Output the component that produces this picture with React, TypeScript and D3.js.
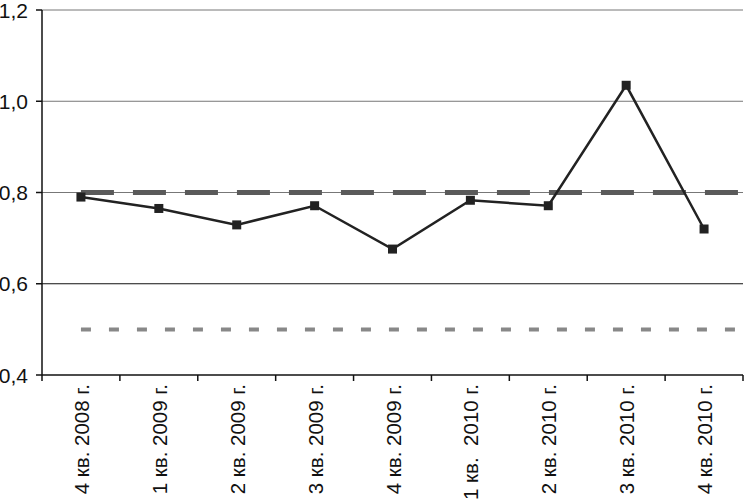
import React from "react";
import * as d3 from "d3";

const categories = [
  "4 кв. 2008 г.",
  "1 кв. 2009 г.",
  "2 кв. 2009 г.",
  "3 кв. 2009 г.",
  "4 кв. 2009 г.",
  "1 кв.  2010 г.",
  "2 кв. 2010 г.",
  "3 кв. 2010 г.",
  "4 кв. 2010 г.",
];
const values = [0.79, 0.765, 0.729, 0.771, 0.676, 0.783, 0.771, 1.035, 0.72];
const upperLevel = 0.8;
const lowerLevel = 0.5;
const yTicks = [0.4, 0.6, 0.8, 1.0, 1.2];

const W = 744;
const H = 503;
const left = 42;
const right = 743;
const top = 10;
const bottom = 375;
const FONT = "Arial, 'Liberation Sans', sans-serif";

export default function App() {
  const x = d3.scaleBand<string>().domain(categories).range([left, right]).padding(0);
  const y = d3.scaleLinear().domain([0.4, 1.2]).range([bottom, top]);
  const cx = (c: string) => (x(c) as number) + x.bandwidth() / 2;
  const line = d3
    .line<number>()
    .x((_, i) => cx(categories[i]))
    .y((d) => y(d));
  const fmt = (v: number) => v.toFixed(1).replace(".", ",");
  const refStart = cx(categories[0]);
  const refEnd = right - 3;

  return (
    <svg width={W} height={H} style={{ position: "absolute", left: 0, top: 0 }}>
      <rect width={W} height={H} fill="#fff" />
      {yTicks.map((t) =>
        t > 0.4 ? (
          <line
            key={"g" + t}
            x1={left}
            x2={right}
            y1={y(t)}
            y2={y(t)}
            stroke={t === 0.6 ? "#111" : "#777"}
            strokeWidth={1}
          />
        ) : null
      )}
      <line
        x1={refStart}
        x2={refEnd}
        y1={y(upperLevel)}
        y2={y(upperLevel)}
        stroke="#5a5a5a"
        strokeWidth={5}
        strokeDasharray="33 19"
      />
      <line
        x1={refStart}
        x2={refEnd}
        y1={y(lowerLevel)}
        y2={y(lowerLevel)}
        stroke="#888"
        strokeWidth={4}
        strokeDasharray="10 18"
      />
      <line x1={left} x2={left} y1={top} y2={bottom} stroke="#111" strokeWidth={1.5} />
      <line x1={left} x2={right} y1={bottom} y2={bottom} stroke="#111" strokeWidth={1.5} />
      {yTicks.map((t) => (
        <g key={"t" + t}>
          <line x1={left - 6} x2={left} y1={y(t)} y2={y(t)} stroke="#111" strokeWidth={1.5} />
          <text
            x={28}
            y={y(t)}
            dy="0.36em"
            textAnchor="end"
            fontSize={21}
            fontFamily={FONT}
            fill="#111"
          >
            {fmt(t)}
          </text>
        </g>
      ))}
      {categories.map((c, i) => (
        <line
          key={"xt" + i}
          x1={x(c) as number}
          x2={x(c) as number}
          y1={bottom}
          y2={bottom + 6}
          stroke="#111"
          strokeWidth={1.5}
        />
      ))}
      <line x1={right} x2={right} y1={bottom} y2={bottom + 6} stroke="#111" strokeWidth={1.5} />
      {categories.map((c, i) => (
        <text
          key={"xl" + i}
          transform={`translate(${cx(c) + 8},${bottom + 9}) rotate(-90)`}
          textAnchor="end"
          fontSize={20.5}
          fontFamily={FONT}
          fill="#111"
          xmlSpace="preserve"
          style={{ whiteSpace: "pre" }}
        >
          {c}
        </text>
      ))}
      <path d={line(values) || ""} fill="none" stroke="#222" strokeWidth={2.5} />
      {values.map((v, i) => (
        <rect
          key={"m" + i}
          x={cx(categories[i]) - 4.5}
          y={y(v) - 4.5}
          width={9}
          height={9}
          fill="#222"
        />
      ))}
    </svg>
  );
}
